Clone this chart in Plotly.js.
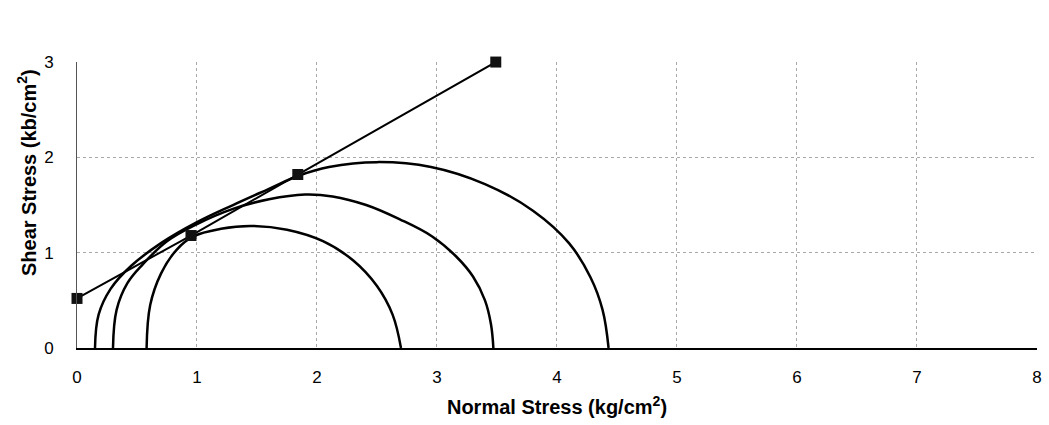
<!DOCTYPE html>
<html>
<head>
<meta charset="utf-8">
<script src="https://cdn.plot.ly/plotly-3.0.1.min.js"></script>
<style>html,body{margin:0;padding:0;background:#fff;}#chart{width:1049px;height:425px;}</style>
</head>
<body>
<div id="chart"></div>
<script>
// Mohr circle 1 (smallest)
const circle1X = [0.58, 0.61, 0.70, 0.83, 0.97, 1.20, 1.45, 1.75, 2.05, 2.30, 2.50, 2.63, 2.70];
const circle1Y = [0.00, 0.45, 0.78, 1.03, 1.17, 1.25, 1.28, 1.24, 1.12, 0.92, 0.65, 0.35, 0.00];
// Mohr circle 2
const circle2X = [0.30, 0.33, 0.42, 0.55, 0.75, 1.00, 1.30, 1.60, 1.90, 2.13, 2.41, 2.69, 2.96, 3.16, 3.30, 3.40, 3.45, 3.47];
const circle2Y = [0.00, 0.40, 0.68, 0.88, 1.12, 1.30, 1.46, 1.56, 1.61, 1.59, 1.50, 1.35, 1.17, 0.96, 0.75, 0.50, 0.25, 0.00];
// Mohr circle 3 (largest)
const circle3X = [0.15, 0.18, 0.28, 0.45, 0.70, 1.00, 1.30, 1.60, 1.85, 2.10, 2.50, 2.95, 3.40, 3.80, 4.10, 4.28, 4.38, 4.43];
const circle3Y = [0.00, 0.35, 0.62, 0.86, 1.10, 1.32, 1.50, 1.67, 1.81, 1.90, 1.95, 1.90, 1.72, 1.44, 1.10, 0.74, 0.40, 0.00];
// Failure envelope points
const envelopeX = [0, 0.95, 1.84, 3.49];
const envelopeY = [0.52, 1.18, 1.82, 3.0];

const xTicks = [0, 1, 2, 3, 4, 5, 6, 7, 8];
const yTicks = [0, 1, 2, 3];

const arcStyle = {mode: 'lines', line: {color: '#000', width: 2.5, shape: 'spline', smoothing: 1.1}, hoverinfo: 'skip', showlegend: false};

const data = [
  Object.assign({x: circle1X, y: circle1Y, type: 'scatter'}, arcStyle),
  Object.assign({x: circle2X, y: circle2Y, type: 'scatter'}, arcStyle),
  Object.assign({x: circle3X, y: circle3Y, type: 'scatter'}, arcStyle),
  {x: envelopeX, y: envelopeY, type: 'scatter', mode: 'lines+markers', cliponaxis: false,
   line: {color: '#000', width: 2}, marker: {symbol: 'square', size: 11, color: '#111'}, showlegend: false}
];

const layout = {
  width: 1049, height: 425,
  margin: {l: 77, r: 12, t: 62, b: 77},
  paper_bgcolor: '#fff', plot_bgcolor: '#fff',
  font: {family: 'Liberation Sans, Arial, sans-serif', color: '#000', size: 17},
  showlegend: false,
  xaxis: {
    range: [0, 8.0005], tickvals: xTicks, ticktext: xTicks.map(String),
    showgrid: true, gridcolor: '#a8a8a8', griddash: 'dot', gridwidth: 1,
    zeroline: false, showline: true, linecolor: '#000', linewidth: 1.5,
    ticks: '', ticklabelstandoff: 13, mirror: false,
    tickfont: {size: 17},
    title: {text: 'Normal Stress (kg/cm<sup>2</sup>)', font: {size: 20, weight: 'bold'}, standoff: 14}
  },
  yaxis: {
    range: [0, 3.0005], tickvals: yTicks, ticktext: yTicks.map(String),
    showgrid: true, gridcolor: '#a8a8a8', griddash: 'dot', gridwidth: 1,
    zeroline: false, showline: true, linecolor: '#555', linewidth: 1,
    ticks: '', ticklabelstandoff: 19,
    tickfont: {size: 17}
  },
  annotations: [{
    text: 'Shear Stress (kb/cm<sup>2</sup>)', textangle: -90, showarrow: false,
    xref: 'paper', yref: 'paper', x: -0.052, y: 0.612, xanchor: 'center', yanchor: 'middle',
    font: {size: 20, weight: 'bold', color: '#000'}
  }]
};

Plotly.newPlot('chart', data, layout, {staticPlot: true, displayModeBar: false});
</script>
</body>
</html>
